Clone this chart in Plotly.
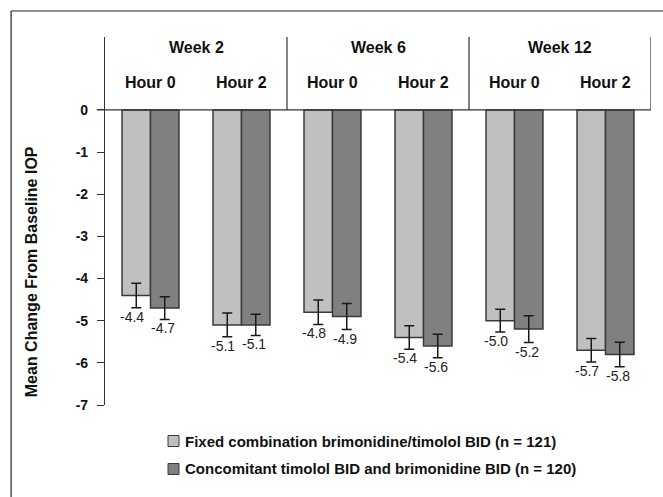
import plotly.graph_objects as go

weeks = ["Week 2", "Week 6", "Week 12"]
hours = ["Hour 0", "Hour 2", "Hour 0", "Hour 2", "Hour 0", "Hour 2"]
series_names = ["Fixed combination brimonidine/timolol BID (n = 121)",
                "Concomitant timolol BID and brimonidine BID (n = 120)"]
fixed_vals = [-4.4, -5.1, -4.8, -5.4, -5.0, -5.7]
fixed_err = [0.29, 0.28, 0.29, 0.28, 0.27, 0.28]
conc_vals = [-4.7, -5.1, -4.9, -5.6, -5.2, -5.8]
conc_err = [0.27, 0.25, 0.31, 0.28, 0.32, 0.29]
y_ticks = [0, -1, -2, -3, -4, -5, -6, -7]

colors = ["#c0c0c0", "#808080"]
edge = "#3a3a3a"
FONT = "Liberation Sans, Arial, sans-serif"

x = list(range(len(hours)))
fig = go.Figure()
for name, vals, errs, col in [(series_names[0], fixed_vals, fixed_err, colors[0]),
                              (series_names[1], conc_vals, conc_err, colors[1])]:
    fig.add_trace(go.Bar(
        x=x, y=vals, name=name, showlegend=False,
        marker=dict(color=col, line=dict(color=edge, width=1.5)),
        error_y=dict(type="data", array=errs, visible=True,
                     color="#1a1a1a", thickness=1.5, width=5),
    ))

annotations = []
# value labels
for vals, errs, xs in [(fixed_vals, fixed_err, -19), (conc_vals, conc_err, 12)]:
    for i, (v, e) in enumerate(zip(vals, errs)):
        annotations.append(dict(x=i, y=v - e, xref="x", yref="y", text=f"{v:.1f}",
                                showarrow=False, xshift=xs, yshift=-9, yanchor="middle",
                                font=dict(family=FONT, size=14, color="#222")))
# hour labels
for i, h in enumerate(hours):
    annotations.append(dict(x=i, y=0.64, xref="x", yref="y", text=f"<b>{h}</b>",
                            showarrow=False, yanchor="middle",
                            font=dict(family=FONT, size=16, color="#111")))
# week labels
for k, w in enumerate(weeks):
    annotations.append(dict(x=2 * k + 0.5, y=1.48, xref="x", yref="y", text=f"<b>{w}</b>",
                            showarrow=False, yanchor="middle",
                            font=dict(family=FONT, size=16, color="#111")))
# y-axis title
annotations.append(dict(x=(31 - 105) / 546, y=-3.85, xref="paper", yref="y",
                        text="<b>Mean Change From Baseline IOP</b>", textangle=-90,
                        showarrow=False, xanchor="center", yanchor="middle",
                        font=dict(family=FONT, size=16, color="#111")))

shapes = []
# header box verticals and bottom line
for xv in [1.5, 3.5, 5.5]:
    shapes.append(dict(type="line", xref="x", yref="y", x0=xv, x1=xv, y0=0, y1=1.73,
                       line=dict(color="#333", width=1.2)))
shapes.append(dict(type="line", xref="paper", yref="y", x0=-0.015, x1=1, y0=0, y1=0,
                   line=dict(color="#333", width=1.2)))
# outer frame (clipped at right/bottom)
shapes.append(dict(type="line", xref="paper", yref="paper", x0=-0.172, x1=1.1,
                   y0=1.0707, y1=1.0707, line=dict(color="#222", width=1.2)))
shapes.append(dict(type="line", xref="paper", yref="paper", x0=-0.172, x1=-0.172,
                   y0=1.0707, y1=-0.3, line=dict(color="#222", width=1.2)))

# manual legend
leg_y = [441, 469]
for j, (name, col) in enumerate(zip(series_names, colors)):
    py = leg_y[j]
    yp0 = (405 - (py - 5.5)) / 368
    yp1 = (405 - (py + 5.5)) / 368
    shapes.append(dict(type="rect", xref="paper", yref="paper",
                       x0=(168 - 105) / 546, x1=(179 - 105) / 546, y0=yp1, y1=yp0,
                       fillcolor=col, line=dict(color=edge, width=1)))
    annotations.append(dict(x=(183 - 105) / 546, y=(405 - py) / 368, xref="paper", yref="paper",
                            text=f"<b>{name}</b>", showarrow=False, xanchor="left",
                            yanchor="middle", font=dict(family=FONT, size=15, color="#111")))

fig.update_layout(
    width=663, height=497,
    margin=dict(l=105, r=12, t=37, b=92),
    paper_bgcolor="white", plot_bgcolor="white",
    barmode="group", bargap=0.374, bargroupgap=0,
    xaxis=dict(range=[-0.5, 5.5], showticklabels=False, showgrid=False,
               zeroline=False, showline=False, ticks=""),
    yaxis=dict(range=[-7, 1.73], tickvals=y_ticks, ticktext=[f"<b>{t}</b>" for t in y_ticks],
               showgrid=False, zeroline=False, showline=True, linecolor="#333", linewidth=1.2,
               ticks="outside", ticklen=7, tickcolor="#333", tickwidth=1.2,
               ticklabelstandoff=6,
               tickfont=dict(family=FONT, size=14, color="#111")),
    annotations=annotations, shapes=shapes,
)
fig.write_html("out.html")
